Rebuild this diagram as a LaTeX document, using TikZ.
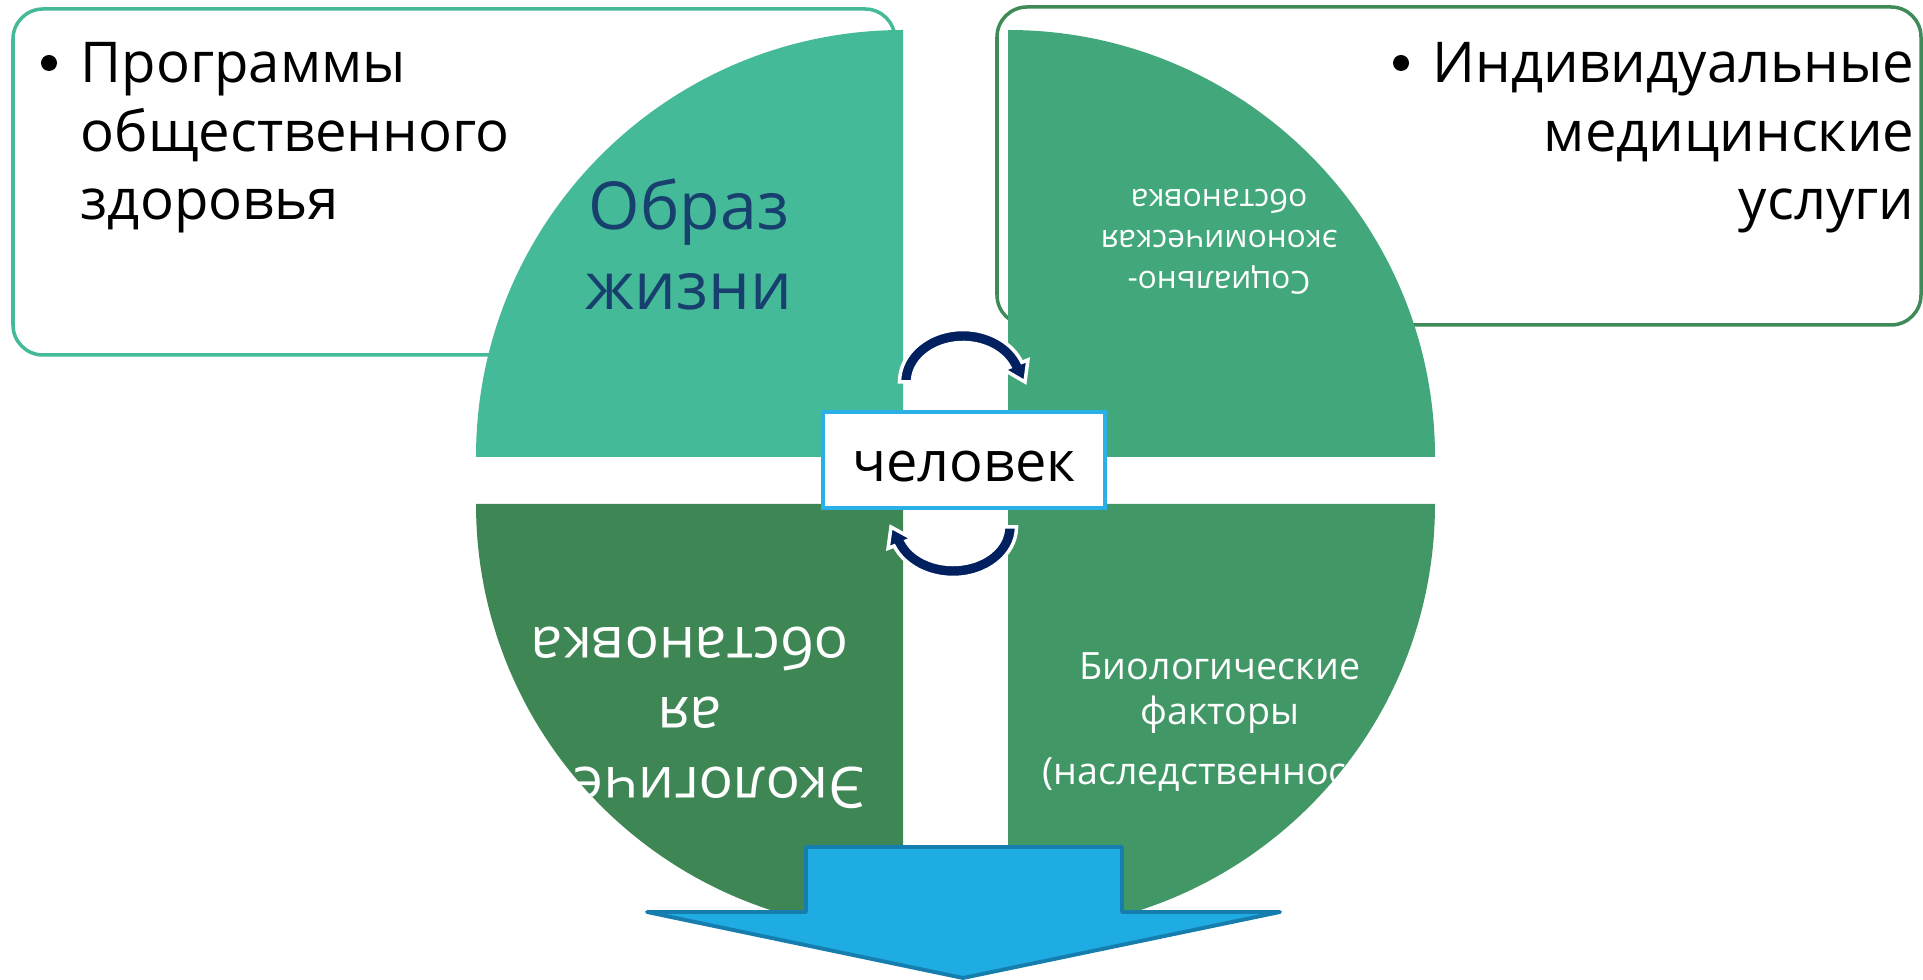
\documentclass[tikz,border=0pt]{standalone}
\usepackage{fontspec}
\setmainfont{Open Sans}
\usepackage{tikz}
\usetikzlibrary{calc}
\usepackage{color}
\definecolor{lifeteal}{RGB}{69, 186, 152}
\definecolor{socgreen}{RGB}{66, 168, 124}
\definecolor{ecogreen}{RGB}{62, 135, 84}
\definecolor{biogreen}{RGB}{65, 151, 102}
\definecolor{medframe}{RGB}{63, 139, 87}
\definecolor{titleblue}{RGB}{23, 64, 110}
\definecolor{turnnavy}{RGB}{0, 32, 96}
\definecolor{humanblue}{RGB}{41, 176, 230}
\definecolor{downblue}{RGB}{30, 172, 226}
\definecolor{downedge}{RGB}{22, 126, 175}

\begin{document}
\begin{tikzpicture}[x=0.01cm, y=-0.01cm,
        boxtext/.style  ={inner sep=0pt, font=\fontsize{16}{19.6}\selectfont},
        bulletdot/.style={circle, fill=black, inner sep=0pt, minimum size=0.16cm},
        lifelabel/.style={inner sep=0pt, align=center, color=titleblue, font=\fontsize{18.8}{22.8}\selectfont},
        soclabel/.style ={inner sep=0pt, align=center, color=white, rotate=180, font=\fontsize{9}{11.6}\selectfont},
        ecolabel/.style ={inner sep=0pt, align=center, color=white, rotate=180, font=\fontsize{16.2}{19.9}\selectfont},
        biolabel/.style ={inner sep=0pt, align=center, color=white, font=\fontsize{10.7}{12.8}\selectfont},
        turnarrow/.style={draw=white, fill=turnnavy, line width=1pt},
        humanbox/.style ={draw=humanblue, fill=white, line width=1pt, minimum width=2.82cm, minimum height=0.96cm,
                          text height=12pt, text depth=0pt, font=\fontsize{15.9}{19}\selectfont}]
            % Frame to fix the page size:
            \useasboundingbox                                          (   0,   0) rectangle (1923, 980);

            % Two side frames with their bullet texts (base = last line)
            \draw[color=lifeteal, line width=1pt, rounded corners=0.3cm] (  13,   9) rectangle ( 895, 355);
            \draw[color=medframe, line width=1pt, rounded corners=0.3cm] ( 997,   7) rectangle (1921, 325);
            \node[bulletdot]                                  (progdot)  at (  49,  63) {};
            \node[boxtext, anchor=base west, align=left]      (progtext) at (  80, 220) {Программы\\общественного\\здоровья};
            \node[bulletdot]                                  (meddot)   at (1401,  63) {};
            \node[boxtext, anchor=base east, align=right]     (medtext)  at (1915, 220) {Индивидуальные\\медицинские\\услуги};

            % Four quarters of the circle
            \begin{scope}
                \clip (903, 457) -- (476, 457) arc[start angle=180, end angle=270, radius=427] -- cycle;
                \fill[color=lifeteal] (0, 0) rectangle (1923, 980);
                \node[lifelabel, anchor=base] (lifetext) at ( 689, 310) {Образ\\жизни};
            \end{scope}
            \begin{scope}
                \clip (1008, 457) -- (1008, 30) arc[start angle=270, end angle=360, radius=427] -- cycle;
                \fill[color=socgreen] (0, 0) rectangle (1923, 980);
                \node[soclabel] (soctext) at (1219, 242) {Социально-\\экономическая\\обстановка};
            \end{scope}
            \begin{scope}
                \clip (903, 504) -- (903, 931) arc[start angle=90, end angle=180, radius=427] -- cycle;
                \fill[color=ecogreen] (0, 0) rectangle (1923, 980);
                \node[ecolabel] (ecotext) at ( 690, 718) {Экологическ\\ая\\обстановка};
            \end{scope}
            \begin{scope}
                \clip (1008, 504) -- (1435, 504) arc[start angle=0, end angle=90, radius=427] -- cycle;
                \fill[color=biogreen] (0, 0) rectangle (1923, 980);
                \node[biolabel, anchor=base] (biotext) at (1220, 785) {Биологические\\факторы\\[4.3pt](наследственность)};
            \end{scope}

            % Turning arrows round the centre
            \coordinate (topturn) at (963, 382);
            \coordinate (botturn) at (953, 527);
            \filldraw[turnarrow] ($(topturn)+(180:63.5 and 52.5)$) arc[start angle=180, end angle=338, x radius=63.5, y radius=52.5]
                 -- ($(topturn)+(338:70 and 59)$) -- ($(topturn)+(0:62 and 51)$) -- ($(topturn)+(338:44 and 33)$)
                 -- ($(topturn)+(338:50.5 and 39.5)$) arc[start angle=338, end angle=180, x radius=50.5, y radius=39.5] -- cycle;
            \filldraw[turnarrow] ($(botturn)+(0:63.5 and 50.5)$) arc[start angle=0, end angle=158, x radius=63.5, y radius=50.5]
                 -- ($(botturn)+(158:70 and 57)$) -- ($(botturn)+(180:62 and 49)$) -- ($(botturn)+(158:44 and 31)$)
                 -- ($(botturn)+(158:50.5 and 37.5)$) arc[start angle=158, end angle=0, x radius=50.5, y radius=37.5] -- cycle;

            % Centre box
            \node[humanbox] (human) at (964, 460) {человек};

            % Big arrow at the bottom
            \filldraw[color=downedge, fill=downblue, line width=1.1pt, line join=round]
                 ( 806, 847) -- (1122, 847) -- (1122, 912) -- (1280, 912) -- ( 963, 978) -- ( 647, 912) -- ( 806, 912) -- cycle;
        \end{tikzpicture}
\end{document}
